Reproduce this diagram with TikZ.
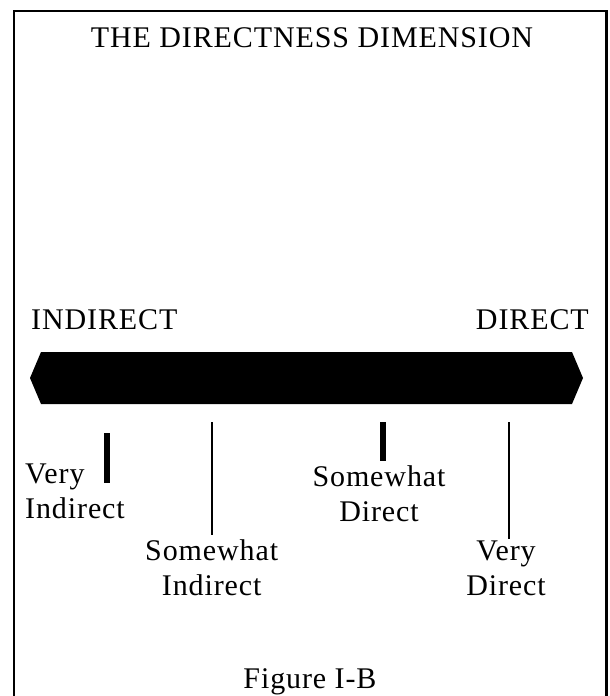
\documentclass[tikz,border=0pt]{standalone}
\usepackage{fontspec}
\setmainfont{Liberation Serif}[LetterSpace=3]
\begin{document}
\begin{tikzpicture}[x=1pt,y=-1pt,
  lbl/.style={inner sep=0pt, font=\fontsize{30}{35}\selectfont},
  frameline/.style={line width=2.5pt},
  thicktick/.style={line width=6pt},
  thintick/.style={line width=2pt}]
\useasboundingbox (0,0) rectangle (610,696);
% frame (open at the bottom, runs off the page)
\draw[frameline] (14,700) -- (14,11) -- (606.5,11) -- (606.5,700);
% title
\node[lbl, anchor=base] (title) at (312,47.7) {THE DIRECTNESS DIMENSION};
% end labels
\node[lbl, anchor=base west] (ind) at (31,329) {INDIRECT};
\node[lbl, anchor=base east] (dir) at (589,329) {DIRECT};
% the double-pointed bar
\fill (30,378) -- (41,352) -- (572,352) -- (583,378) -- (572,404) -- (41,404) -- cycle;
% scale labels
\node[lbl, anchor=base west] (vi) at (25,483) {\begin{tabular}[t]{@{}l@{}}Very\\Indirect\end{tabular}};
\node[lbl, anchor=base] (si) at (211.7,560) {\begin{tabular}[t]{@{}c@{}}Somewhat\\Indirect\end{tabular}};
\node[lbl, anchor=base] (sd) at (379,486) {\begin{tabular}[t]{@{}c@{}}Somewhat\\Direct\end{tabular}};
\node[lbl, anchor=base] (vd) at (506,560) {\begin{tabular}[t]{@{}c@{}}Very\\Direct\end{tabular}};
% ticks
\coordinate (vitop) at (106.5,433);
\coordinate (vibot) at (106.5,483);
\draw[thicktick] (vitop) -- (vibot);
\coordinate (sitop) at (211.7,422);
\draw[thintick] (sitop) -- (sitop |- si.north);
\coordinate (sdtop) at (382.7,422);
\draw[thicktick] (sdtop) -- (sdtop |- sd.north);
\coordinate (vdtop) at (509.3,422);
\coordinate (vdbot) at (509.3,539);
\draw[thintick] (vdtop) -- (vdbot);
% caption
\node[lbl, anchor=base] (fig) at (310,688) {Figure I-B};
\end{tikzpicture}
\end{document}
